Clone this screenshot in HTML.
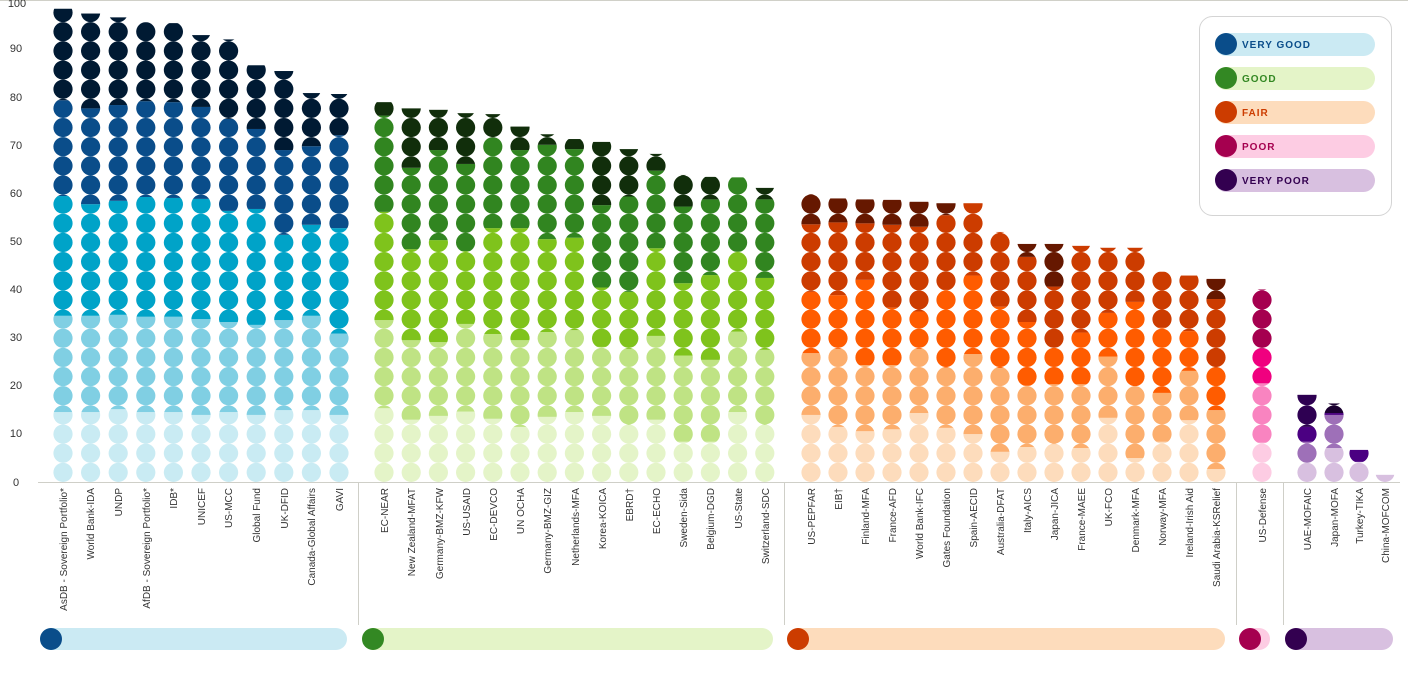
<!DOCTYPE html>
<html><head><meta charset="utf-8"><style>
html,body{margin:0;padding:0;background:#fff;width:1408px;height:683px;overflow:hidden}
svg{display:block;font-family:"Liberation Sans",sans-serif}
.yl{font-size:11px;fill:#333;text-anchor:middle}
.xl{font-size:10px;fill:#333;text-anchor:end}
.lg{font-size:10px;font-weight:bold;letter-spacing:1px}
</style></head><body>
<svg id="s" width="1408" height="683" viewBox="0 0 1408 683">
<line x1="0" y1="0.5" x2="1408" y2="0.5" stroke="#d0d0c8"/>
<g id="yl">
<text class="yl" x="16" y="486">0</text>
<text class="yl" x="16" y="437">10</text>
<text class="yl" x="16" y="389">20</text>
<text class="yl" x="16" y="341">30</text>
<text class="yl" x="16" y="293">40</text>
<text class="yl" x="16" y="245">50</text>
<text class="yl" x="16" y="197">60</text>
<text class="yl" x="16" y="149">70</text>
<text class="yl" x="16" y="101">80</text>
<text class="yl" x="16" y="52">90</text>
<text class="yl" x="17" y="7">100</text>
</g>
<line x1="38" y1="482.5" x2="1400" y2="482.5" stroke="#cfcfc8"/>
<g stroke="#cfcfc8">
<line x1="358.5" y1="483" x2="358.5" y2="625"/>
<line x1="784.5" y1="483" x2="784.5" y2="625"/>
<line x1="1236.5" y1="483" x2="1236.5" y2="625"/>
<line x1="1283.5" y1="483" x2="1283.5" y2="625"/>
</g>
<g id="dots"></g>
<g>
<text class="xl" transform="translate(67,488) rotate(-90)">AsDB - Sovereign Portfolio*</text>
<text class="xl" transform="translate(94,488) rotate(-90)">World Bank-IDA</text>
<text class="xl" transform="translate(122,488) rotate(-90)">UNDP</text>
<text class="xl" transform="translate(150,488) rotate(-90)">AfDB - Sovereign Portfolio*</text>
<text class="xl" transform="translate(177,488) rotate(-90)">IDB*</text>
<text class="xl" transform="translate(205,488) rotate(-90)">UNICEF</text>
<text class="xl" transform="translate(232,488) rotate(-90)">US-MCC</text>
<text class="xl" transform="translate(260,488) rotate(-90)">Global Fund</text>
<text class="xl" transform="translate(288,488) rotate(-90)">UK-DFID</text>
<text class="xl" transform="translate(315,488) rotate(-90)">Canada-Global Affairs</text>
<text class="xl" transform="translate(343,488) rotate(-90)">GAVI</text>
<text class="xl" transform="translate(388,488) rotate(-90)">EC-NEAR</text>
<text class="xl" transform="translate(415,488) rotate(-90)">New Zealand-MFAT</text>
<text class="xl" transform="translate(443,488) rotate(-90)">Germany-BMZ-KFW</text>
<text class="xl" transform="translate(470,488) rotate(-90)">US-USAID</text>
<text class="xl" transform="translate(497,488) rotate(-90)">EC-DEVCO</text>
<text class="xl" transform="translate(524,488) rotate(-90)">UN OCHA</text>
<text class="xl" transform="translate(551,488) rotate(-90)">Germany-BMZ-GIZ</text>
<text class="xl" transform="translate(579,488) rotate(-90)">Netherlands-MFA</text>
<text class="xl" transform="translate(606,488) rotate(-90)">Korea-KOICA</text>
<text class="xl" transform="translate(633,488) rotate(-90)">EBRD†</text>
<text class="xl" transform="translate(660,488) rotate(-90)">EC-ECHO</text>
<text class="xl" transform="translate(687,488) rotate(-90)">Sweden-Sida</text>
<text class="xl" transform="translate(714,488) rotate(-90)">Belgium-DGD</text>
<text class="xl" transform="translate(742,488) rotate(-90)">US-State</text>
<text class="xl" transform="translate(769,488) rotate(-90)">Switzerland-SDC</text>
<text class="xl" transform="translate(815,488) rotate(-90)">US-PEPFAR</text>
<text class="xl" transform="translate(842,488) rotate(-90)">EIB†</text>
<text class="xl" transform="translate(869,488) rotate(-90)">Finland-MFA</text>
<text class="xl" transform="translate(896,488) rotate(-90)">France-AFD</text>
<text class="xl" transform="translate(923,488) rotate(-90)">World Bank-IFC</text>
<text class="xl" transform="translate(950,488) rotate(-90)">Gates Foundation</text>
<text class="xl" transform="translate(977,488) rotate(-90)">Spain-AECID</text>
<text class="xl" transform="translate(1004,488) rotate(-90)">Australia-DFAT</text>
<text class="xl" transform="translate(1031,488) rotate(-90)">Italy-AICS</text>
<text class="xl" transform="translate(1058,488) rotate(-90)">Japan-JICA</text>
<text class="xl" transform="translate(1085,488) rotate(-90)">France-MAEE</text>
<text class="xl" transform="translate(1112,488) rotate(-90)">UK-FCO</text>
<text class="xl" transform="translate(1139,488) rotate(-90)">Denmark-MFA</text>
<text class="xl" transform="translate(1166,488) rotate(-90)">Norway-MFA</text>
<text class="xl" transform="translate(1193,488) rotate(-90)">Ireland-Irish Aid</text>
<text class="xl" transform="translate(1220,488) rotate(-90)">Saudi Arabia-KSRelief</text>
<text class="xl" transform="translate(1266,488) rotate(-90)">US-Defense</text>
<text class="xl" transform="translate(1311,488) rotate(-90)">UAE-MOFAIC</text>
<text class="xl" transform="translate(1338,488) rotate(-90)">Japan-MOFA</text>
<text class="xl" transform="translate(1363,488) rotate(-90)">Turkey-TIKA</text>
<text class="xl" transform="translate(1389,488) rotate(-90)">China-MOFCOM</text>
</g>
<rect x="40" y="628" width="307" height="22" rx="11" fill="#cbeaf3"/><circle cx="51" cy="639" r="11" fill="#0a4d8a"/>
<rect x="362" y="628" width="411" height="22" rx="11" fill="#e4f4c8"/><circle cx="373" cy="639" r="11" fill="#338823"/>
<rect x="788" y="628" width="437" height="22" rx="11" fill="#fddcbc"/><circle cx="798" cy="639" r="11" fill="#cc3c00"/>
<rect x="1240" y="628" width="30" height="22" rx="11" fill="#fdcce3"/><circle cx="1250" cy="639" r="11" fill="#a5004f"/>
<rect x="1285" y="628" width="108" height="22" rx="11" fill="#d8c0e0"/><circle cx="1296" cy="639" r="11" fill="#330050"/>
<rect x="1199.5" y="16.5" width="192" height="199" rx="13" fill="#fff" stroke="#d4d4d4"/>
<rect x="1215" y="33" width="160" height="23" rx="11.5" fill="#cbeaf3"/><circle cx="1226" cy="44" r="11" fill="#0a4d8a"/><text class="lg" x="1242" y="48" fill="#0a4d8a">VERY GOOD</text>
<rect x="1215" y="67" width="160" height="23" rx="11.5" fill="#e4f4c8"/><circle cx="1226" cy="78" r="11" fill="#338823"/><text class="lg" x="1242" y="82" fill="#338823">GOOD</text>
<rect x="1215" y="101" width="160" height="23" rx="11.5" fill="#fddcbc"/><circle cx="1226" cy="112" r="11" fill="#cc3c00"/><text class="lg" x="1242" y="116" fill="#cc3c00">FAIR</text>
<rect x="1215" y="135" width="160" height="23" rx="11.5" fill="#fdcce3"/><circle cx="1226" cy="146" r="11" fill="#a5004f"/><text class="lg" x="1242" y="150" fill="#a5004f">POOR</text>
<rect x="1215" y="169" width="160" height="23" rx="11.5" fill="#d8c0e0"/><circle cx="1226" cy="180" r="11" fill="#330050"/><text class="lg" x="1242" y="184" fill="#330050">VERY POOR</text>
</svg>
<script>
(function(){
var NS="http://www.w3.org/2000/svg";
var B=["#c9ebf3","#80cfe3","#00a3c8","#0a4d8a","#001a33"];
var G=["#e4f4c8","#bfe384","#7fc31c","#318520","#112e0b"];
var F=["#fddcbc","#fcae6d","#ff5c00","#cc3c00","#661800"];
var P=["#fdcce3","#f984c0","#f0007f","#a5004f"];
var cols=[];
var L=[[14.6,34.7,59.7,79.7,98.8],[14.6,34.7,58,78,97.8],[15.2,34.9,58.7,78.7,97],[14.6,34.5,59.5,79.5,96],[14.6,34.5,59.3,79.3,95.8],[14,34,59.1,78.3,93.3],[14.6,33.4,56.6,75.8,92.4],[14,32.8,57,73.7,87],[15,33.8,51.6,69.3,85.8],[15,34.7,53.7,70.1,81.2],[14,31,53,72.4,81]];
L.forEach(function(b,i){cols.push({x:63+i*27.6,b:b,c:B});});
var GG=[[15.4,33.8,56.4,76.5,79.3],[13,29.6,48.6,65.6,78],[13.8,29.2,50.5,69.3,77.7],[14.7,33,48.2,66.4,77],[13.2,30.9,53,71.9,76.8],[11.5,29.6,53,69.3,74.2],[13.6,31.3,50.7,70.4,72.6],[14.6,31.7,51,69.5,71.6],[13.8,28.2,40.6,57.8,71],[11.9,27.8,39.7,59.6,69.5],[13,30.5,48.8,65,68.5],[8.4,26.4,41.5,57.5,64.1],[8.4,25.5,43.2,59,63.7],[14.6,31.4,48.1,63.6,63.6],[11.9,27.6,42.6,59,61.4]];
GG.forEach(function(b,i){cols.push({x:384+i*27.2,b:b,c:G});});
var FF=[[14,26.9,39.7,53.8,60.1],[11.5,27.8,39,54.2,59.2],[10.6,24.4,42.2,54,59],[11,24.4,36.4,53.7,58.9],[14.4,27.8,35.6,53.3,58.5],[11.3,23.9,40.1,55.7,58.2],[10,26.7,43.1,58.2,58.2],[6.3,23.8,36.6,52.2,52.2],[7.3,20.1,33.4,47,49.7],[7.9,20.4,28,40.8,49.7],[7.1,20.4,31.2,49.3,49.3],[13.4,26.2,35.3,48.9,48.9],[5,20,37.6,48.9,48.9],[8.4,18.6,32.2,43.9,43.9],[12.9,23.2,31.5,43.1,43.1],[2.7,15,23.9,38.2,42.4]];
FF.forEach(function(b,i){cols.push({x:811+i*27,b:b,c:F});});
cols.push({x:1262,b:[8.2,20.6,27.9,40.2],c:P});
cols.push({x:1307,b:[4,8.4,11.5,18.2],c:["#d8c0e0","#9e70b8","#4b0082","#2e0052"]});
cols.push({x:1334,b:[7.1,14,14.4,16.4],c:["#d8c0e0","#9e70b8","#4b0082","#1a0030"]});
cols.push({x:1359,b:[4.2,6.7],c:["#d8c0e0","#4b0082"]});
cols.push({x:1385,b:[1.5],c:["#d8c0e0"]});
var s=document.getElementById("s"),g=document.getElementById("dots");
var defs=document.createElementNS(NS,"defs");var cp=document.createElementNS(NS,"clipPath");cp.setAttribute("id","cp");
cols.forEach(function(c){for(var k=0;k<25;k++){var v=2+4*k;var ci=document.createElementNS(NS,"circle");ci.setAttribute("cx",c.x);ci.setAttribute("cy",482-v*4.79);ci.setAttribute("r",9.6);cp.appendChild(ci);}});
defs.appendChild(cp);s.insertBefore(defs,s.firstChild);
g.setAttribute("clip-path","url(#cp)");
function Y(v){return 482-v*4.79;}
cols.forEach(function(c){var lo=0;c.b.forEach(function(hi,j){if(hi<=lo){return;}var r=document.createElementNS(NS,"rect");r.setAttribute("x",c.x-10.5);r.setAttribute("width",21);r.setAttribute("y",Y(hi));r.setAttribute("height",Y(lo)-Y(hi));r.setAttribute("fill",c.c[j]);g.appendChild(r);lo=hi;});});
})();
</script>
</body></html>
